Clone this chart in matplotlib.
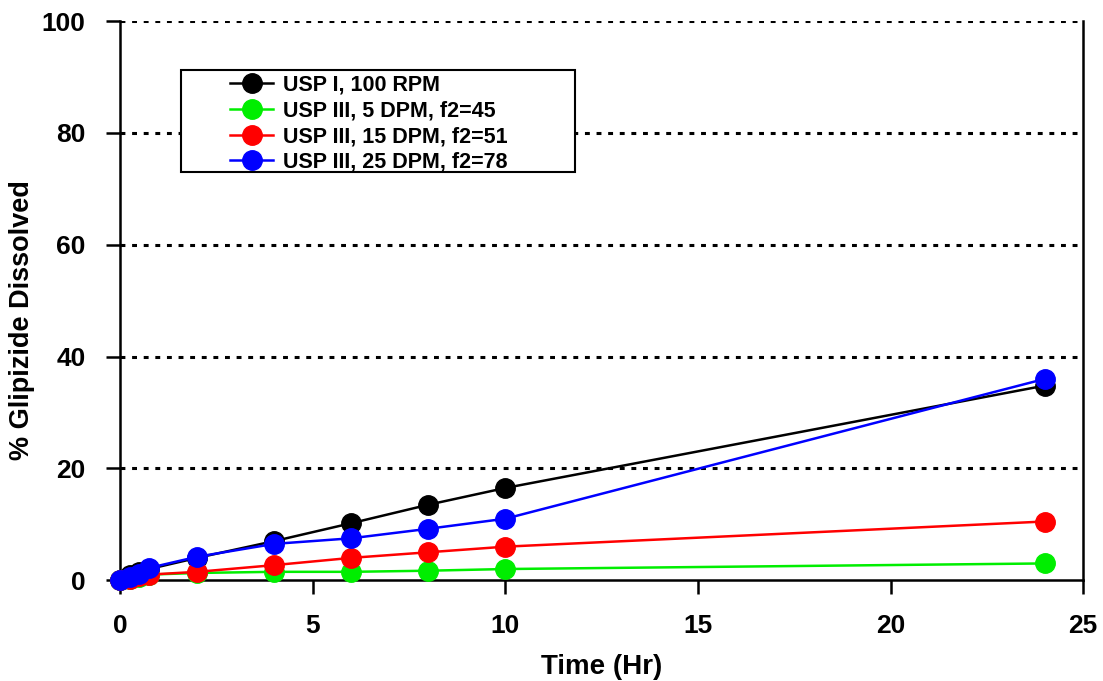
import numpy as np
import matplotlib
matplotlib.use("Agg")
import matplotlib.pyplot as plt
from matplotlib.patches import Rectangle

plt.rcParams["font.family"] = ["Liberation Sans", "DejaVu Sans"]
plt.rcParams["font.weight"] = "bold"

time_hr = [0, 0.25, 0.5, 0.75, 2, 4, 6, 8, 10, 24]
usp1_100rpm = [0, 1.0, 1.5, 2.0, 4.0, 7.0, 10.2, 13.5, 16.5, 34.8]
usp3_5dpm = [0, 0.2, 0.5, 1.0, 1.3, 1.5, 1.5, 1.7, 2.0, 3.0]
usp3_15dpm = [0, 0.3, 0.7, 1.0, 1.5, 2.7, 4.0, 5.0, 6.0, 10.5]
usp3_25dpm = [0, 0.5, 1.2, 2.2, 4.2, 6.5, 7.5, 9.2, 11.0, 36.0]

labels = ["USP I, 100 RPM", "USP III, 5 DPM, f2=45",
          "USP III, 15 DPM, f2=51", "USP III, 25 DPM, f2=78"]
colors = ["#000000", "#00ee00", "#ff0000", "#0000ff"]
series = [usp1_100rpm, usp3_5dpm, usp3_15dpm, usp3_25dpm]

fig = plt.figure(figsize=(11.03, 6.81), dpi=100)
ax = fig.add_axes([0.109, 0.148, 0.873, 0.821])

for yv in [20, 40, 60, 80, 100]:
    ax.axhline(yv, color="black", lw=2.2, ls=(0, (1.6, 2.2)), zorder=1)

for vals, col, lab in zip(series, colors, labels):
    ax.plot(time_hr, vals, color=col, lw=1.8, marker="o", ms=14,
            mec=col, mfc=col, label=lab, zorder=3, clip_on=False)

ax.set_xlim(0, 25)
ax.set_ylim(0, 100)
ax.set_xticks([0, 5, 10, 15, 20, 25])
ax.set_yticks([0, 20, 40, 60, 80, 100])
ax.tick_params(axis="x", direction="out", length=10, width=1.8, labelsize=19, pad=14)
ax.tick_params(axis="y", direction="out", length=10, width=1.8, labelsize=19, pad=15)
for lbl in ax.get_xticklabels() + ax.get_yticklabels():
    lbl.set_fontweight("bold")
ax.spines["top"].set_visible(False)
for s in ["left", "right", "bottom"]:
    ax.spines[s].set_linewidth(1.8)

ax.set_xlabel("Time (Hr)", fontsize=20, fontweight="bold", labelpad=12)
ax.set_ylabel("% Glipizide Dissolved", fontsize=19.5, fontweight="bold")
ax.yaxis.set_label_coords(-0.088, 0.465)

# legend box drawn separately so its padding matches the original
ax.add_patch(Rectangle((0.0633, 0.730), 0.409, 0.182, transform=ax.transAxes,
                       facecolor="white", edgecolor="black", lw=1.5, zorder=4))
leg = ax.legend(loc="upper left", bbox_to_anchor=(0.114, 0.904), frameon=False,
                handlelength=2.0, handletextpad=0.45, labelspacing=0.22,
                borderpad=0, borderaxespad=0,
                prop={"weight": "bold", "size": 15.5})
leg.set_zorder(5)

fig.savefig("out.png", dpi=100)
